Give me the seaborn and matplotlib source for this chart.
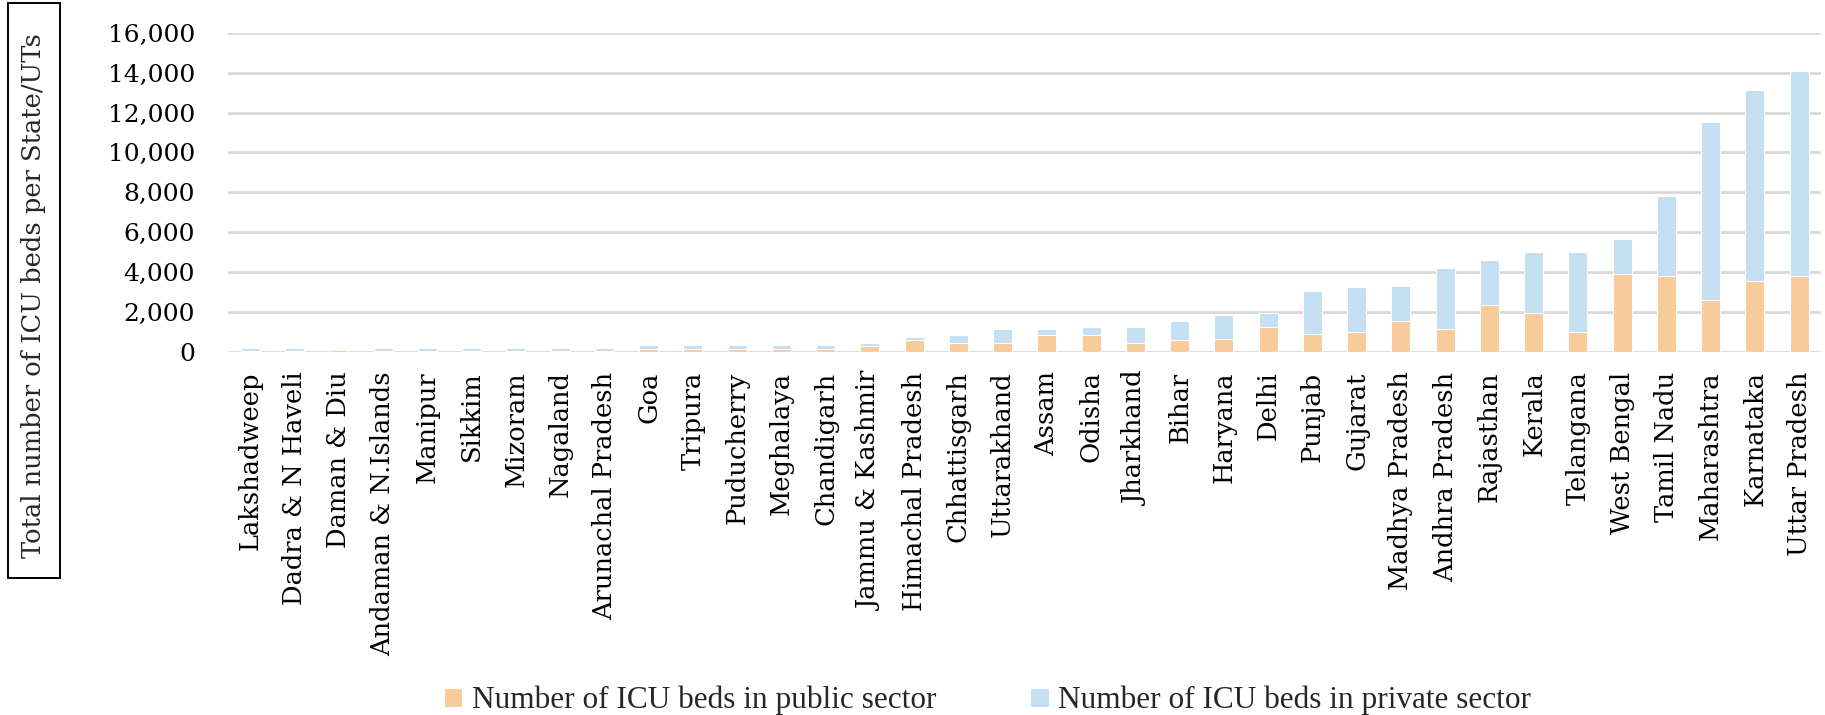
import seaborn as sns
import matplotlib.pyplot as plt
from matplotlib.patches import Rectangle
from matplotlib.ticker import FuncFormatter
import pandas as pd

# ICU beds per state / UT
states = ["Lakshadweep", "Dadra & N Haveli", "Daman & Diu", "Andaman & N.Islands",
          "Manipur", "Sikkim", "Mizoram", "Nagaland", "Arunachal Pradesh", "Goa",
          "Tripura", "Puducherry", "Meghalaya", "Chandigarh", "Jammu & Kashmir",
          "Himachal Pradesh", "Chhattisgarh", "Uttarakhand", "Assam", "Odisha",
          "Jharkhand", "Bihar", "Haryana", "Delhi", "Punjab", "Gujarat",
          "Madhya Pradesh", "Andhra Pradesh", "Rajasthan", "Kerala", "Telangana",
          "West Bengal", "Tamil Nadu", "Maharashtra", "Karnataka", "Uttar Pradesh"]
public = [40, 40, 100, 40, 40, 40, 40, 40, 40, 160, 160, 160, 170, 170, 320,
          600, 460, 460, 870, 870, 460, 600, 650, 1270, 900, 1000, 1550, 1150,
          2330, 1950, 1000, 3930, 3800, 2600, 3550, 3800]
private = [170, 170, 0, 170, 170, 170, 170, 170, 170, 170, 170, 170, 170, 170, 140,
           130, 410, 680, 270, 400, 810, 960, 1180, 700, 2150, 2270, 1750, 3050,
           2270, 3050, 4000, 1740, 4000, 8930, 9580, 10270]

pub_label = "Number of ICU beds in public sector"
priv_label = "Number of ICU beds in private sector"
c_pub = "#F8CB9B"
c_priv = "#C4DFF1"

df = pd.DataFrame({"state": states, "public": public, "private": private})
df["total"] = df["public"] + df["private"]

sns.set_style("white")
plt.rcParams["font.family"] = ["DejaVu Serif"]

fig = plt.figure(figsize=(18.25, 7.15), dpi=100)
ax = fig.add_axes([0.125, 0.5077, 0.873, 0.4466])

# stacked: total in blue, public over it in orange
sns.barplot(data=df, x="state", y="total", color=c_priv, width=0.43,
            edgecolor="white", linewidth=0.8, saturation=1, ax=ax, label=priv_label)
sns.barplot(data=df, x="state", y="public", color=c_pub, width=0.43,
            edgecolor="white", linewidth=0.8, saturation=1, ax=ax, label=pub_label)

ax.set_ylim(0, 16000)
ax.set_xlim(-0.5, len(states) - 0.5)
ax.set_yticks(range(0, 16001, 2000))
ax.yaxis.set_major_formatter(FuncFormatter(lambda v, p: f"{int(v):,}"))
ax.grid(axis="y", color="#D9D9D9", linewidth=2)
ax.set_axisbelow(True)
for s in ax.spines.values():
    s.set_visible(False)
ax.tick_params(axis="y", length=0, labelsize=18, colors="black", pad=24)
ax.tick_params(axis="x", length=0, labelsize=18.5, colors="black", pad=14)
plt.setp(ax.get_xticklabels(), rotation=90)
ax.set_xlabel("")
ax.set_ylabel("")

# boxed axis title on the left
fig.add_artist(Rectangle((8 / 1825, 1 - 578 / 715), 52 / 1825, 575 / 715,
                         transform=fig.transFigure, fill=False, ec="black", lw=1.4))
fig.text(34 / 1825, 1 - 296 / 715, "Total number of ICU beds per State/UTs",
         rotation=90, ha="center", va="center", fontsize=18.5)

h, l = ax.get_legend_handles_labels()
if ax.legend_:
    ax.legend_.remove()
fig.legend(h[::-1], l[::-1], loc="lower center", bbox_to_anchor=(0.541, -0.04), ncol=2,
           frameon=False, prop={"family": "Liberation Serif", "size": 22.5},
           handlelength=0.6, handleheight=0.6, handletextpad=0.3, columnspacing=3.0)

fig.savefig("out.png", dpi=100)
